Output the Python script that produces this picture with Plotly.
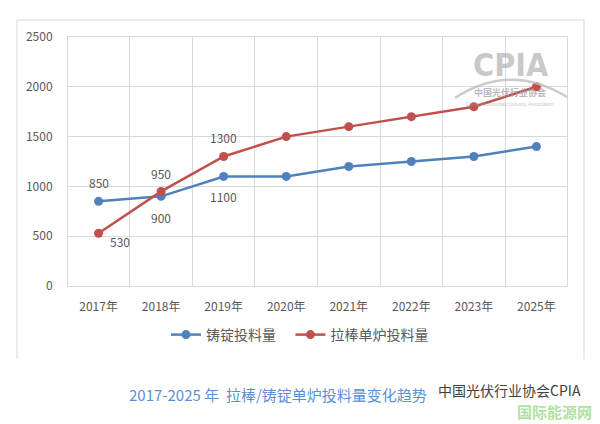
import plotly.graph_objects as go

years = ["2017年", "2018年", "2019年", "2020年", "2021年", "2022年", "2023年", "2025年"]
ingot = [850, 900, 1100, 1100, 1200, 1250, 1300, 1400]
pull = [530, 950, 1300, 1500, 1600, 1700, 1800, 2000]
# data labels shown for the first three years only
ingot_labels = ["850", "900", "1100"]
pull_labels = ["530", "950", "1300"]

BLUE = "#4F81BD"
RED = "#C0504D"
FONT = "Noto Sans CJK SC"
GRAY = "#595959"
grid = "#D9D9D9"
NB = "\u00a0"

fig = go.Figure()
fig.add_trace(go.Scatter(
    x=years, y=ingot, name="铸锭投料量" + NB * 3, mode="lines+markers",
    line=dict(color=BLUE, width=2.5), marker=dict(size=9, color=BLUE)))
fig.add_trace(go.Scatter(
    x=years, y=pull, name="拉棒单炉投料量", mode="lines+markers",
    line=dict(color=RED, width=2.5), marker=dict(size=9, color=RED)))

# label offsets (pixels) relative to their points
ingot_off = [(0, 19), (0, -21), (0, -20)]
pull_off = [(21, -8), (0, 18), (0, 19)]
for lab, yr, val, (dx, dy) in zip(ingot_labels, years, ingot, ingot_off):
    fig.add_annotation(x=yr, y=val, text=lab, showarrow=False, xshift=dx, yshift=dy,
                       xanchor="center", yanchor="middle",
                       font=dict(family=FONT, size=12, color=GRAY))
for lab, yr, val, (dx, dy) in zip(pull_labels, years, pull, pull_off):
    fig.add_annotation(x=yr, y=val, text=lab, showarrow=False, xshift=dx, yshift=dy,
                       xanchor="center", yanchor="middle",
                       font=dict(family=FONT, size=12, color=GRAY))

fig.update_layout(
    width=600, height=424, margin=dict(l=0, r=0, t=0, b=0, autoexpand=False),
    paper_bgcolor="white", plot_bgcolor="white",
    font=dict(family=FONT, size=12, color=GRAY),
    xaxis=dict(domain=[68/600, 567/600], type="category", tickson="boundaries",
               showgrid=True, gridcolor=grid, showline=True, linecolor=grid,
               mirror=True, ticks="", ticklabelstandoff=10, automargin=False,
               tickfont=dict(size=12, color=GRAY)),
    yaxis=dict(domain=[1-286/424, 1-37/424], range=[0, 2500], dtick=500,
               showgrid=True, gridcolor=grid, showline=True, linecolor=grid,
               mirror=True, zeroline=False, ticks="", ticklabelstandoff=12,
               automargin=False, tickfont=dict(size=12, color=GRAY)),
    legend=dict(orientation="h", x=166/600, xanchor="left", y=1-335/424, yanchor="middle",
                font=dict(family=FONT, size=14, color=GRAY), itemwidth=30,
                bgcolor="rgba(0,0,0,0)"),
    showlegend=True,
)

# chart border (left, top, right)
bx0, bx1, by0, by1 = 17/600, 584/600, 1-359/424, 1-20/424
for x0, y0, x1, y1 in [(bx0, by0, bx0, by1), (bx0, by1, bx1, by1), (bx1, by1, bx1, by0)]:
    fig.add_shape(type="line", xref="paper", yref="paper", x0=x0, y0=y0, x1=x1, y1=y1,
                  line=dict(color=grid, width=1))

# CPIA watermark
fig.add_shape(type="path", xref="paper", yref="paper", layer="above",
              path=f"M {455/600} {1-98/424} Q {510/600} {1-62/424} {567/600} {1-97/424}",
              line=dict(color="rgba(190,190,190,0.8)", width=2.5))
fig.add_annotation(xref="paper", yref="paper", x=511/600, y=1-65/424, text="<b>CPIA</b>",
                   xanchor="center", yanchor="middle", showarrow=False,
                   font=dict(family="Liberation Sans Narrow, DejaVu Sans Condensed", size=32,
                             color="rgba(170,170,170,0.65)"))
fig.add_annotation(xref="paper", yref="paper", x=510/600, y=1-93/424, text="<b>中国光伏行业协会</b>",
                   xanchor="center", yanchor="middle", showarrow=False,
                   font=dict(family=FONT, size=9, color="rgba(160,160,160,0.75)"))
fig.add_annotation(xref="paper", yref="paper", x=510/600, y=1-104/424,
                   text="China Photovoltaic Industry Association",
                   xanchor="center", yanchor="middle", showarrow=False,
                   font=dict(family="Liberation Sans", size=5, color="rgba(170,170,170,0.7)"))

# caption
fig.add_annotation(xref="paper", yref="paper", x=127/600, y=1-394/424, xanchor="left",
                   yanchor="middle",
                   text="2017-2025 年  拉棒/铸锭单炉投料量变化趋势", showarrow=False,
                   font=dict(family=FONT, size=15, color="#5B8FD6"))
fig.add_annotation(xref="paper", yref="paper", x=583/600, y=1-390/424, xanchor="right",
                   yanchor="middle", text="中国光伏行业协会CPIA", showarrow=False,
                   font=dict(family=FONT, size=14, color="#404040"))
fig.add_annotation(xref="paper", yref="paper", x=594/600, y=1-411/424, xanchor="right",
                   yanchor="middle", text="<b>国际能源网</b>", showarrow=False,
                   font=dict(family=FONT, size=15, color="rgba(110,200,80,0.55)"))

fig.write_html("out.html")
